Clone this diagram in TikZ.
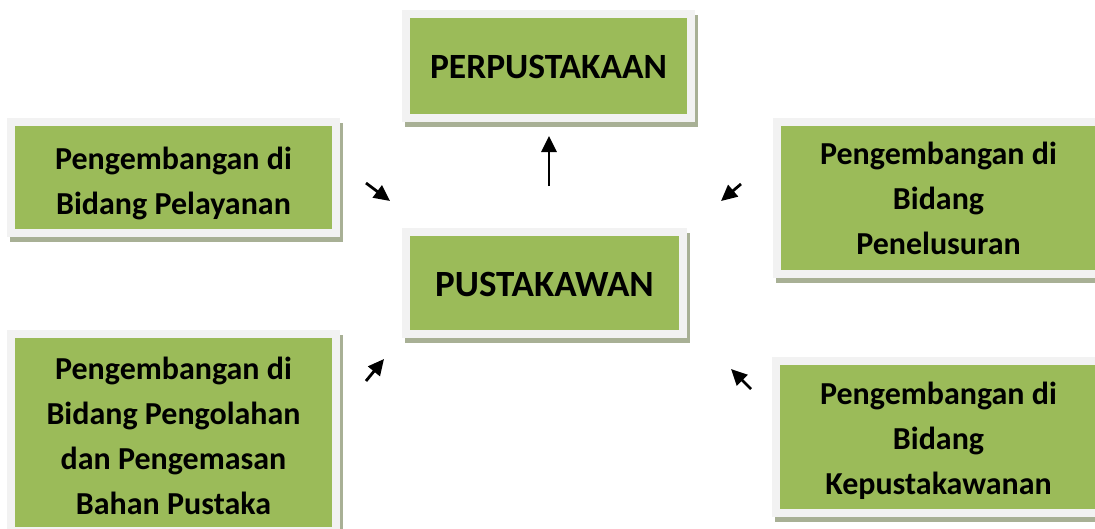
\documentclass[tikz,border=0pt]{standalone}
\usepackage{fontspec}
\setmainfont{Carlito}
\usetikzlibrary{arrows.meta}

\definecolor{boxgreen}{HTML}{9BBB59}
\definecolor{framegrey}{HTML}{F2F2F2}
\definecolor{shadowgrey}{HTML}{A8B095}

\newcommand{\boxfont}{\bfseries\fontsize{32}{45}\selectfont}

\tikzset{
  infobox/.style={fill=boxgreen, draw=framegrey, line width=8pt,
    align=center, text=black, font=\boxfont, inner sep=0pt,
    text depth=0pt,
    preaction={draw=shadowgrey, fill=shadowgrey, line width=8pt,
      transform canvas={shift={(3pt,-5pt)}}}},
  flow/.style={line width=2.8pt, -{Triangle[length=16pt,width=15pt]}}
}

\begin{document}
\begin{tikzpicture}[x=1pt,y=-1pt]
  \useasboundingbox (0,0) rectangle (1095,528);

  % center and top
  \node (perpustakaan) [infobox, minimum width=285pt, minimum height=104pt,
    text height=25pt, font=\bfseries\fontsize{35.5}{45}\selectfont]
    at (548.5,66) {PERPUSTAKAAN};
  \node (pustakawan) [infobox, minimum width=277pt, minimum height=102pt,
    text height=26pt, font=\bfseries\fontsize{37}{45}\selectfont]
    at (544.5,283) {PUSTAKAWAN};

  % left column
  \node (pelayanan) [infobox, minimum width=325pt, minimum height=111pt,
    text height=74pt] at (173.5,177.5) {Pengembangan di\\Bidang Pelayanan};
  \node (pengolahan) [infobox, minimum width=325pt, minimum height=197pt,
    text height=164pt] at (173.5,432.5)
    {Pengembangan di\\Bidang Pengolahan\\dan Pengemasan\\Bahan Pustaka};

  % right column
  \node (penelusuran) [infobox, minimum width=323pt, minimum height=152pt,
    text height=113pt] at (938.5,198) {Pengembangan di\\Bidang\\Penelusuran};
  \node (kepustakawanan) [infobox, minimum width=325pt, minimum height=152pt,
    text height=115pt] at (938.5,437) {Pengembangan di\\Bidang\\Kepustakawanan};

  % arrow ends
  \coordinate (upTail) at (549,186);  \coordinate (upTip) at (549,136);
  \coordinate (plyTail) at (366,183); \coordinate (plyTip) at (390,201);
  \coordinate (plsTail) at (741,184); \coordinate (plsTip) at (721,201);
  \coordinate (pglTail) at (366,381); \coordinate (pglTip) at (384,359);
  \coordinate (kepTail) at (751,389); \coordinate (kepTip) at (731,369);

  \draw[flow] (upTail) -- (upTip);
  \draw[flow] (plyTail) -- (plyTip);
  \draw[flow] (plsTail) -- (plsTip);
  \draw[flow] (pglTail) -- (pglTip);
  \draw[flow] (kepTail) -- (kepTip);
\end{tikzpicture}
\end{document}
